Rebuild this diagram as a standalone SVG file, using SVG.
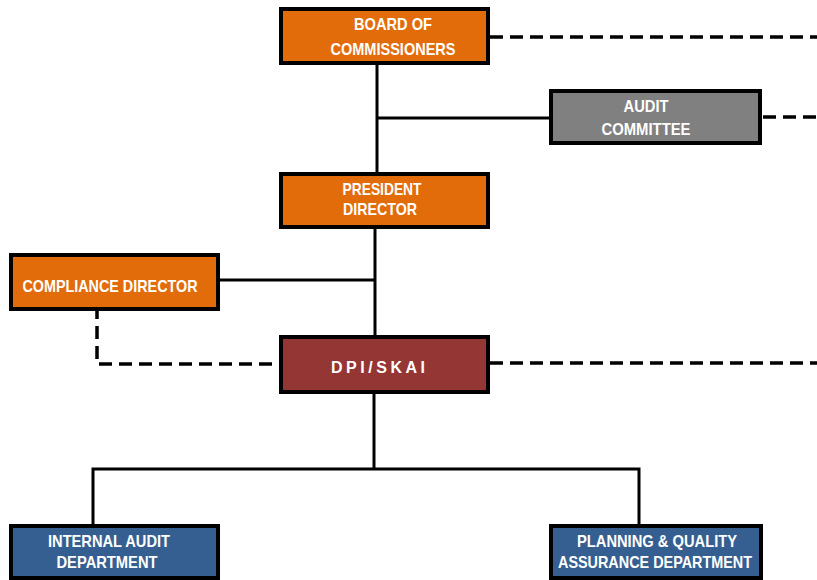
<svg xmlns="http://www.w3.org/2000/svg" width="817" height="580" viewBox="0 0 817 580">
<style>
.box{stroke:#000;stroke-width:4}
.orange{fill:#E36C0A}
.gray{fill:#808080}
.red{fill:#943634}
.blue{fill:#365F91}
.t{font-family:"Liberation Sans",Arial,sans-serif;font-weight:bold;font-size:17px;fill:#fff;text-anchor:middle}
.ln{stroke:#000;stroke-width:3;fill:none}
.dash{stroke:#000;stroke-width:3.5;fill:none;stroke-dasharray:13 7}
</style>
<rect width="817" height="580" fill="#fff"/>
<g id="connectors">
<line class="ln" x1="377" y1="63" x2="377" y2="174"/>
<line class="ln" x1="377" y1="118" x2="551" y2="118"/>
<line class="ln" x1="375" y1="227" x2="375" y2="337"/>
<line class="ln" x1="219" y1="280" x2="375" y2="280"/>
<line class="ln" x1="374" y1="393" x2="374" y2="469"/>
<polyline class="ln" points="93,526 93,469 639,469 639,526"/>
<line class="dash" x1="490" y1="37" x2="817" y2="37"/>
<line class="dash" x1="763" y1="117" x2="817" y2="117"/>
<line class="dash" x1="490" y1="363" x2="817" y2="363"/>
<polyline class="dash" points="97,306 97,364 279,364"/>
</g>
<g id="board">
<rect class="box orange" x="281" y="9" width="207" height="54"/>
<text class="t" x="393" y="30" textLength="78" lengthAdjust="spacingAndGlyphs">BOARD OF</text>
<text class="t" x="393" y="55" textLength="125" lengthAdjust="spacingAndGlyphs">COMMISSIONERS</text>
</g>
<g id="audit-committee">
<rect class="box gray" x="551" y="91" width="209" height="52"/>
<text class="t" x="646" y="112" textLength="45" lengthAdjust="spacingAndGlyphs">AUDIT</text>
<text class="t" x="646" y="135" textLength="89" lengthAdjust="spacingAndGlyphs">COMMITTEE</text>
</g>
<g id="president">
<rect class="box orange" x="281" y="174" width="207" height="53"/>
<text class="t" x="382" y="195" textLength="79" lengthAdjust="spacingAndGlyphs">PRESIDENT</text>
<text class="t" x="380" y="215" textLength="74" lengthAdjust="spacingAndGlyphs">DIRECTOR</text>
</g>
<g id="compliance">
<rect class="box orange" x="11" y="255" width="207" height="54"/>
<text class="t" x="110" y="292" textLength="175" lengthAdjust="spacingAndGlyphs">COMPLIANCE DIRECTOR</text>
</g>
<g id="dpi">
<rect class="box red" x="281" y="337" width="207" height="55"/>
<text class="t" x="378" y="373" textLength="94" lengthAdjust="spacing" style="font-size:16px">DPI/SKAI</text>
</g>
<g id="internal-audit">
<rect class="box blue" x="11" y="526" width="207" height="52"/>
<text class="t" x="109" y="547" textLength="122" lengthAdjust="spacingAndGlyphs">INTERNAL AUDIT</text>
<text class="t" x="107" y="568" textLength="101" lengthAdjust="spacingAndGlyphs">DEPARTMENT</text>
</g>
<g id="planning">
<rect class="box blue" x="551" y="526" width="210" height="52"/>
<text class="t" x="657" y="547" textLength="160" lengthAdjust="spacingAndGlyphs">PLANNING &amp; QUALITY</text>
<text class="t" x="655" y="568" textLength="194" lengthAdjust="spacingAndGlyphs">ASSURANCE DEPARTMENT</text>
</g>
</svg>
